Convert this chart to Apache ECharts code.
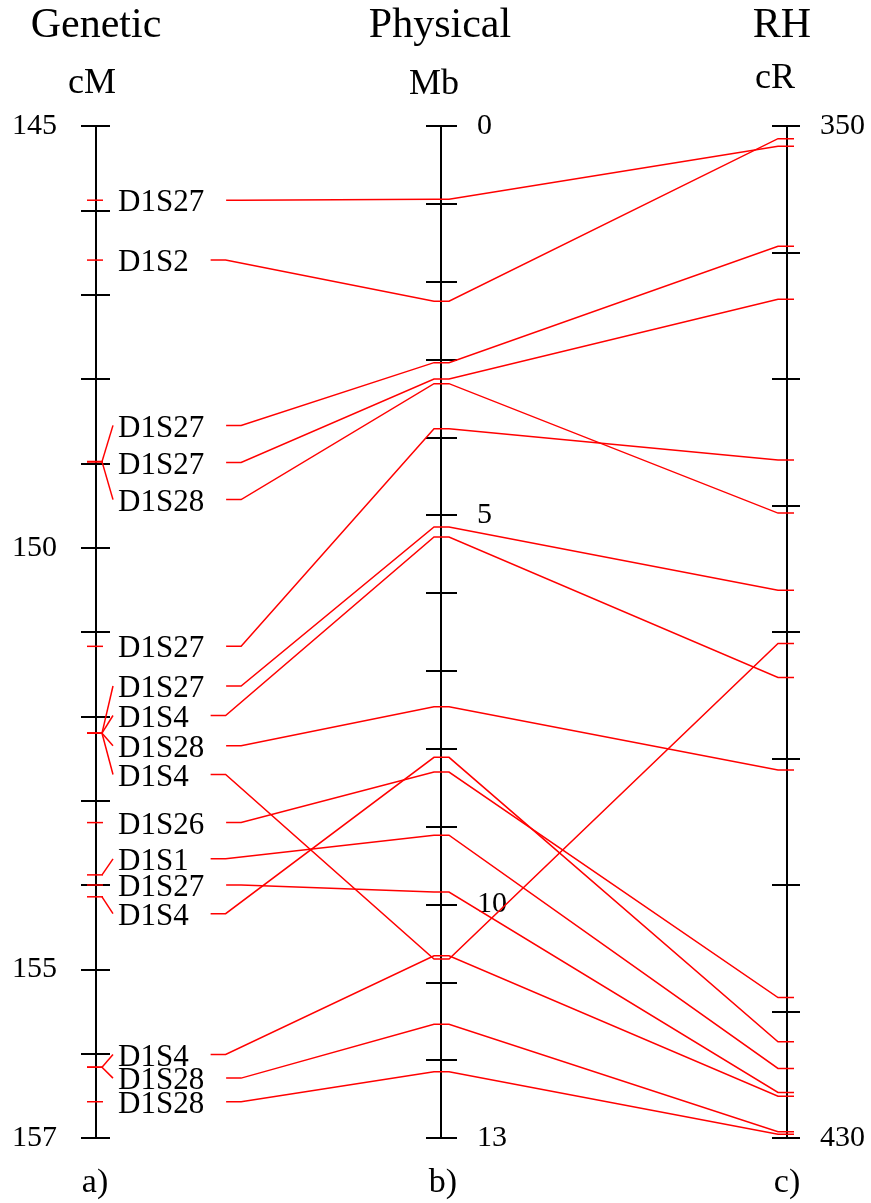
<!DOCTYPE html>
<html>
<head>
<meta charset="utf-8">
<script src="https://cdn.jsdelivr.net/npm/echarts@6/dist/echarts.min.js"></script>
<style>
html,body{margin:0;padding:0;background:#fff;}
#c{width:871px;height:1203px;}
</style>
</head>
<body>
<div id="c"></div>
<script>
// ---------------- DATA ----------------
const markerNames = ['D1S27','D1S2','D1S27','D1S27','D1S28','D1S27','D1S27','D1S4','D1S28','D1S4','D1S26','D1S1','D1S27','D1S4','D1S4','D1S28','D1S28'];
const geneticCM  = [145.88,146.59,148.98,148.98,148.98,151.17,152.20,152.20,152.20,152.20,153.26,153.88,154.00,154.14,156.16,156.16,156.57];
const physicalMb = [0.94,2.25,3.04,3.25,3.31,3.89,5.15,5.28,7.46,10.70,8.30,9.11,9.84,8.11,10.66,11.54,12.15];
const rhCR       = [351.6,351.0,359.5,363.7,380.6,376.4,386.7,393.6,400.9,390.9,418.9,424.5,426.4,422.4,426.7,429.5,429.7];

const geneticTickLabels  = [145,150,155,157];
const physicalTickLabels = [0,5,10,13];
const rhTickLabels       = [350,430];

const panelTitles = ['Genetic','Physical','RH'];
const panelUnits  = ['cM','Mb','cR'];
const panelTags   = ['a)','b)','c)'];

// ---------------- LAYOUT ----------------
// where each marker name is placed along the genetic axis (fanned apart when crowded)
const labelCM = [145.88,146.59,148.55,148.99,149.43,151.17,151.64,151.99,152.35,152.69,153.26,153.69,154.00,154.34,156.01,156.29,156.57];

const FONT = '"Liberation Serif","Times New Roman",serif';
const AXIS_X = [96, 441, 787];
const GRID_W = [14, 16, 13];
const TOP = 126, BOTTOM = 1203 - 1138;
const RED = '#ff0000';

const chart = echarts.init(document.getElementById('c'), null, {renderer: 'canvas'});

function makeGrid(i) {
  return {left: AXIS_X[i], top: TOP, bottom: BOTTOM, width: GRID_W[i], outerBoundsMode: 'none', containLabel: false};
}
function makeX(i) {
  return {type: 'value', gridIndex: i, min: 0, max: 1, show: false};
}
function makeY(i, min, max, interval, labels, inside, margin) {
  return {
    type: 'value', gridIndex: i, min: min, max: max, interval: interval, inverse: true, position: 'left',
    axisLine: {show: true, lineStyle: {color: '#000', width: 2}},
    axisTick: {show: true, inside: false, length: 15, lineStyle: {color: '#000', width: 2}},
    splitLine: {show: true, showMinLine: true, showMaxLine: true, lineStyle: {color: '#000', width: 2}},
    axisLabel: {
      show: true, inside: inside, margin: margin, fontFamily: FONT, fontSize: 30, color: '#000',
      showMinLabel: true, showMaxLabel: true, hideOverlap: false,
      formatter: function (v) { return labels.indexOf(Math.round(v * 1000) / 1000) >= 0 ? String(v) : ''; }
    }
  };
}

const measureCtx = document.createElement('canvas').getContext('2d');
const LABEL_FONT_SIZE = 31;
measureCtx.font = LABEL_FONT_SIZE + 'px "Liberation Serif"';
function textWidth(s) { return measureCtx.measureText(s).width; }

const graphics = [];
const titleX = [96, 440, 782], unitX = [92, 434, 775], unitY = [84, 85, 79], tagX = [95, 443, 787];
for (let k = 0; k < 3; k++) {
  graphics.push({type: 'text', x: titleX[k], y: 26, silent: true,
    style: {text: panelTitles[k], font: '42px ' + FONT, fill: '#000', align: 'center', verticalAlign: 'middle'}});
  graphics.push({type: 'text', x: unitX[k], y: unitY[k], silent: true,
    style: {text: panelUnits[k], font: '36px ' + FONT, fill: '#000', align: 'center', verticalAlign: 'middle'}});
  graphics.push({type: 'text', x: tagX[k], y: 1183, silent: true,
    style: {text: panelTags[k], font: '34px ' + FONT, fill: '#000', align: 'center', verticalAlign: 'middle'}});
}

const baseOption = {
  animation: false,
  backgroundColor: '#fff',
  grid: [makeGrid(0), makeGrid(1), makeGrid(2)],
  xAxis: [makeX(0), makeX(1), makeX(2)],
  yAxis: [
    makeY(0, 145, 157, 1, geneticTickLabels, false, 39),
    makeY(1, 0, 13, 1, physicalTickLabels, true, 36),
    makeY(2, 350, 430, 10, rhTickLabels, true, 33)
  ],
  graphic: graphics,
  series: []
};
chart.setOption(baseOption);

function seg(points) {
  return {type: 'polyline', silent: true, shape: {points: points},
    style: {stroke: RED, lineWidth: 1.5, fill: null}};
}

chart.setOption({
  series: [{
    type: 'custom',
    coordinateSystem: 'cartesian2d',
    xAxisIndex: 0, yAxisIndex: 0,
    silent: true,
    clip: false,
    encode: {x: 0, y: 1},
    data: geneticCM.map(function (g, i) { return [0, g, i]; }),
    renderItem: function (params, api) {
      const i = api.value(2);
      const gp = api.coord([0, geneticCM[i]]);
      const gx = gp[0], gy = gp[1];
      const ly = api.coord([0, labelCM[i]])[1];
      const pX = chart.convertToPixel({xAxisIndex: 1}, 0);
      const pY = chart.convertToPixel({yAxisIndex: 1}, physicalMb[i]);
      const rX = chart.convertToPixel({xAxisIndex: 2}, 0);
      const rY = chart.convertToPixel({yAxisIndex: 2}, rhCR[i]);
      const tx = gx + 22;
      const sx = tx + textWidth(markerNames[i]) + 22;
      const children = [
        seg([[gx - 9, gy], [gx + 7, gy]]),
        {type: 'text', silent: true, x: tx, y: ly + 3,
          style: {text: markerNames[i], font: LABEL_FONT_SIZE + 'px ' + FONT, fill: '#000', align: 'left', verticalAlign: 'middle'}},
        seg([[sx, ly], [sx + 15, ly], [pX - 7, pY], [pX + 8, pY], [rX - 9, rY], [rX + 7, rY]])
      ];
      if (Math.abs(ly - gy) > 1) {
        children.push(seg([[gx + 6, gy], [gx + 17, ly]]));
      }
      return {type: 'group', children: children};
    }
  }]
});
</script>
</body>
</html>
